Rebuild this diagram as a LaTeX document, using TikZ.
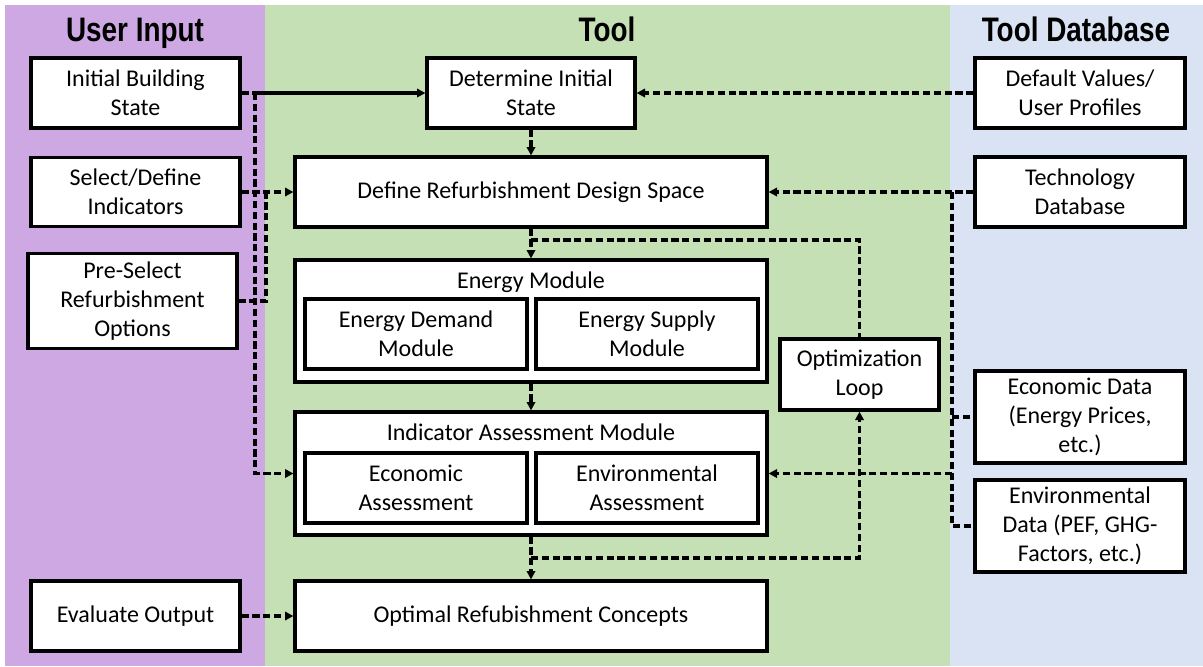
\documentclass[tikz,border=0pt]{standalone}
\usepackage{fontspec}
\setmainfont{Carlito}
\newfontfamily\hdrfamily{Liberation Sans}
\usepackage{graphicx}
\usetikzlibrary{arrows.meta, calc, positioning}
\definecolor{colUser}{HTML}{CDA8E3}
\definecolor{colTool}{HTML}{C5E0B4}
\definecolor{colData}{HTML}{DAE3F3}
\newcommand{\bodyfont}{\fontsize{12pt}{14.5pt}\selectfont}
\newcommand{\hdrfont}{\hdrfamily\bfseries\fontsize{17pt}{20pt}\selectfont}
\tikzset{
  % one unit = one pixel of the sketch, y running downwards
  every picture/.append style = {line width=0.7pt, >={Triangle[length=4.2pt, width=4.2pt]}},
  blk/.style      = {draw=black, line width=1.6pt, fill=white, align=center,
                     font=\bodyfont, inner sep=0pt},
  sz/.style 2 args = {minimum width=#1*0.5pt, minimum height=#2*0.5pt},
  ttl/.style      = {font=\bodyfont},
  hdr/.style      = {font=\hdrfont, anchor=base},
  flow/.style     = {line width=1.6pt, dash pattern=on 3.6pt off 1.8pt},
  feed/.style     = {line width=1.7pt},
}

\begin{document}
\begin{tikzpicture}[x=0.5pt,y=-0.5pt]
  \useasboundingbox (0,0) rectangle (1203,666);
  % --- column bands -------------------------------------------------------
  \fill[colUser] (5,5) rectangle (265,666);
  \fill[colTool] (265,5) rectangle (950,666);
  \fill[colData] (950,5) rectangle (1203,666);
  \node[hdr] (hUser) at (135,41) {\scalebox{0.82}[1]{User Input}};
  \node[hdr] (hTool) at (607,41) {\scalebox{0.82}[1]{Tool}};
  \node[hdr] (hData) at (1076,41) {\scalebox{0.82}[1]{Tool Database}};
  % --- user input ---------------------------------------------------------
  \node[blk, sz={209}{70}] (ibs) at (135.5,93)  {Initial Building\\State};
  \node[blk, sz={209}{69}] (sdi) at (135.5,192) {Select/Define\\Indicators};
  \node[blk, sz={209}{95}] (pso) at (132.5,301) {Pre-Select\\Refurbishment\\Options};
  \node[blk, sz={209}{70}] (evo) at (135.5,616) {Evaluate Output};
  % --- tool ---------------------------------------------------------------
  \node[blk, sz={208}{70}] (dis) at (531,93)  {Determine Initial\\State};
  \node[blk, sz={472}{70}] (drs) at (531,192) {Define Refurbishment Design Space};
  \node[blk, sz={472}{122}] (em) at (531,321) {};
  \node[ttl] (emT) at (531,282) {Energy Module};
  \node[blk, sz={222}{70}] (edm) at (416,334) {Energy Demand\\Module};
  \node[blk, sz={222}{70}] (esm) at (647,334) {Energy Supply\\Module};
  \node[blk, sz={472}{123}] (iam) at (531,473.5) {};
  \node[ttl] (iamT) at (531,432) {Indicator Assessment Module};
  \node[blk, sz={222}{70}] (eca) at (416,488) {Economic\\Assessment};
  \node[blk, sz={222}{70}] (ena) at (647,488) {Environmental\\Assessment};
  \node[blk, sz={159}{71}] (opt) at (859.5,374.5) {Optimization\\Loop};
  \node[blk, sz={472}{70}] (orc) at (531,616) {Optimal Refubishment Concepts};
  % --- tool database ------------------------------------------------------
  \node[blk, sz={210}{70}] (dvp) at (1080,93)  {Default Values/\\User Profiles};
  \node[blk, sz={210}{70}] (tdb) at (1080,192) {Technology\\Database};
  \node[blk, sz={210}{92}] (ecd) at (1080,417) {Economic Data\\(Energy Prices,\\etc.)};
  \node[blk, sz={210}{92}] (end) at (1080,526) {Environmental\\Data (PEF, GHG-\\Factors, etc.)};
  % --- junctions ----------------------------------------------------------
  \coordinate (jA) at (255,93);
  \coordinate (jB) at (266,192);
  \coordinate (jC) at (952,192);
  \coordinate (lpT) at (531,240);
  \coordinate (lpB) at (531,558);
  % --- user input links ---------------------------------------------------
  \draw[flow] (ibs.east) -- (jA);
  \draw[feed, ->] (jA) -- (dis.west);
  \draw[flow, ->] (jA) |- (iam.west);
  \draw[flow, ->] (sdi.east) -- (drs.west);
  \draw[flow] (pso.east) -| (jB);
  \draw[flow, ->] (evo.east) -- (orc.west);
  % --- main chain and loop ------------------------------------------------
  \draw[flow, ->] (dis.south) -- (drs.north);
  \draw[flow, ->] (drs.south) -- (em.north);
  \draw[flow, ->] (em.south) -- (iam.north);
  \draw[flow, ->] (iam.south) -- (orc.north);
  \draw[flow] (lpT) -| (opt.north);
  \draw[flow, ->] (lpB) -| (opt.south);
  % --- database links -----------------------------------------------------
  \draw[flow, ->] (dvp.west) -- (dis.east);
  \draw[flow, ->] (tdb.west) -- (drs.east);
  \draw[flow] (jC) |- (end.west);
  \draw[flow] (jC |- ecd.west) -- (ecd.west);
  \draw[flow, ->] (jC |- iam.east) -- (iam.east);
\end{tikzpicture}
\end{document}
